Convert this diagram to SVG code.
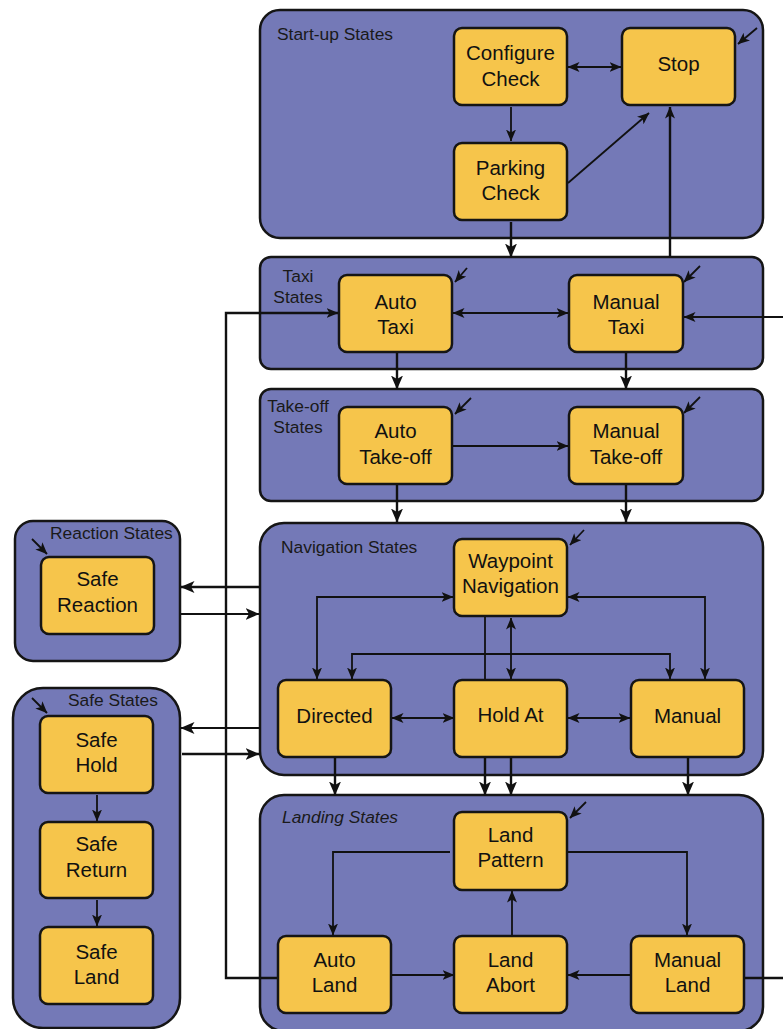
<svg xmlns="http://www.w3.org/2000/svg" width="783" height="1029" viewBox="0 0 783 1029">
  <style>
    .grp { fill: #7479b7; stroke: #151515; stroke-width: 2.5; }
    .st { fill: #f6c54b; stroke: #151515; stroke-width: 2.5; }
    .lbl { font-family: "Liberation Sans", Arial, sans-serif; font-size: 17.4px; fill: #1a1a1a; }
    .nt { font-family: "Liberation Sans", Arial, sans-serif; font-size: 20.5px; fill: #111; text-anchor: middle; }
    .c { fill: none; stroke: #111; stroke-width: 1.8; }
    .ct { fill: none; stroke: #111; stroke-width: 2.4; }
  </style>
  <defs>
    <marker id="ah" viewBox="0 0 12 10" refX="11.5" refY="5" markerWidth="12" markerHeight="10" markerUnits="userSpaceOnUse" orient="auto-start-reverse">
      <path d="M0,0 L12,5 L0,10 L3,5 z" fill="#111"/>
    </marker>
    <marker id="ahb" viewBox="0 0 14 12" refX="13.5" refY="6" markerWidth="14" markerHeight="12" markerUnits="userSpaceOnUse" orient="auto-start-reverse">
      <path d="M0,0 L14,6 L0,12 L3.5,6 z" fill="#111"/>
    </marker>
  </defs>

  <rect width="783" height="1029" fill="#ffffff"/>

  <!-- state groups (containers) -->
  <g id="startup-states">
    <rect class="grp" x="260" y="10" width="503" height="228" rx="20"/>
    <text class="lbl" x="277" y="40">Start-up States</text>
  </g>
  <g id="taxi-states">
    <rect class="grp" x="260" y="257" width="503" height="112" rx="11"/>
    <text class="lbl" x="298" y="282" text-anchor="middle">Taxi</text>
    <text class="lbl" x="298" y="303" text-anchor="middle">States</text>
  </g>
  <g id="takeoff-states">
    <rect class="grp" x="260" y="389" width="503" height="112" rx="11"/>
    <text class="lbl" x="298" y="412" text-anchor="middle">Take-off</text>
    <text class="lbl" x="298" y="433" text-anchor="middle">States</text>
  </g>
  <g id="reaction-states">
    <rect class="grp" x="15" y="521" width="165" height="140" rx="18"/>
    <text class="lbl" x="50" y="539">Reaction States</text>
  </g>
  <g id="navigation-states">
    <rect class="grp" x="260" y="523" width="503" height="252" rx="24"/>
    <text class="lbl" x="281" y="553">Navigation States</text>
  </g>
  <g id="safe-states">
    <rect class="grp" x="13" y="688" width="167" height="340" rx="30"/>
    <text class="lbl" x="68" y="706">Safe States</text>
  </g>
  <g id="landing-states">
    <rect class="grp" x="260" y="795" width="503" height="236" rx="24"/>
    <text class="lbl" x="282" y="823" font-style="italic">Landing States</text>
  </g>

  <!-- transitions -->
  <g id="connectors">
    <!-- start-up -->
    <path class="c" d="M568,67 H621" marker-start="url(#ah)" marker-end="url(#ah)"/>
    <path class="c" d="M511,107 V141" marker-end="url(#ah)"/>
    <path class="c" d="M568,183 L649,113" marker-end="url(#ah)"/>
    <path class="ct" d="M670,257 V107" marker-end="url(#ah)"/>
    <path class="c" d="M757,28 L738,44" marker-end="url(#ah)"/>
    <path class="ct" d="M511,222 V257" marker-end="url(#ahb)"/>

    <!-- taxi -->
    <path class="ct" d="M277,978 H226 V313 H338" marker-end="url(#ah)"/>
    <path class="c" d="M453,313 H568" marker-start="url(#ah)" marker-end="url(#ah)"/>
    <path class="c" d="M783,317 H684" marker-end="url(#ah)"/>
    <path class="c" d="M467,268 L455,282" marker-end="url(#ah)"/>
    <path class="c" d="M700,266 L684,282" marker-end="url(#ah)"/>
    <path class="ct" d="M397,353 V389" marker-end="url(#ahb)"/>
    <path class="ct" d="M626,353 V389" marker-end="url(#ahb)"/>

    <!-- take-off -->
    <path class="c" d="M453,446 H568" marker-end="url(#ah)"/>
    <path class="c" d="M471,398 L455,414" marker-end="url(#ah)"/>
    <path class="c" d="M700,397 L684,413" marker-end="url(#ah)"/>
    <path class="ct" d="M397,485 V522" marker-end="url(#ahb)"/>
    <path class="ct" d="M626,485 V522" marker-end="url(#ahb)"/>

    <!-- reaction / safe links -->
    <path class="ct" d="M260,587 H181" marker-end="url(#ahb)"/>
    <path class="c" d="M181,614 H259" marker-end="url(#ahb)"/>
    <path class="c" d="M260,728 H181" marker-end="url(#ahb)"/>
    <path class="ct" d="M182,754 H259" marker-end="url(#ahb)"/>
    <path class="c" d="M32,539 L47,554" marker-end="url(#ah)"/>
    <path class="c" d="M32,698 L47,713" marker-end="url(#ah)"/>

    <!-- navigation -->
    <path class="c" d="M584,530 L570,545" marker-end="url(#ah)"/>
    <path class="c" d="M453,597 H317 V679" marker-start="url(#ah)" marker-end="url(#ah)"/>
    <path class="c" d="M568,597 H705 V679" marker-start="url(#ah)" marker-end="url(#ah)"/>
    <path class="c" d="M352,679 V654 H670 V679" marker-start="url(#ah)" marker-end="url(#ah)"/>
    <path class="c" d="M485,617 V680"/>
    <path class="c" d="M511,618 V679" marker-start="url(#ah)" marker-end="url(#ah)"/>
    <path class="c" d="M392,718 H454" marker-start="url(#ah)" marker-end="url(#ah)"/>
    <path class="c" d="M568,718 H630" marker-start="url(#ah)" marker-end="url(#ah)"/>
    <path class="ct" d="M335,758 V795" marker-end="url(#ahb)"/>
    <path class="ct" d="M485,758 V795" marker-end="url(#ahb)"/>
    <path class="ct" d="M511,758 V795" marker-end="url(#ahb)"/>
    <path class="ct" d="M688,758 V795" marker-end="url(#ahb)"/>

    <!-- safe chain -->
    <path class="c" d="M97,795 V821" marker-end="url(#ah)"/>
    <path class="c" d="M97,900 V926" marker-end="url(#ah)"/>

    <!-- landing -->
    <path class="c" d="M586,802 L570,818" marker-end="url(#ah)"/>
    <path class="c" d="M450,852 H333 V935" marker-end="url(#ah)"/>
    <path class="c" d="M568,852 H687 V935" marker-end="url(#ah)"/>
    <path class="c" d="M512,936 V891" marker-end="url(#ah)"/>
    <path class="c" d="M392,975 H454" marker-end="url(#ah)"/>
    <path class="c" d="M631,975 H568" marker-end="url(#ah)"/>
    <path class="ct" d="M745,978 H783"/>
  </g>

  <!-- states -->
  <g id="configure-check">
    <rect class="st" x="454" y="28" width="113" height="77" rx="8"/>
    <text class="nt" x="510.5" y="60">Configure</text>
    <text class="nt" x="510.5" y="86">Check</text>
  </g>
  <g id="stop">
    <rect class="st" x="622" y="28" width="113" height="77" rx="8"/>
    <text class="nt" x="678.5" y="71">Stop</text>
  </g>
  <g id="parking-check">
    <rect class="st" x="454" y="143" width="113" height="77" rx="8"/>
    <text class="nt" x="510.5" y="175">Parking</text>
    <text class="nt" x="510.5" y="200">Check</text>
  </g>
  <g id="auto-taxi">
    <rect class="st" x="339" y="275" width="113" height="77" rx="8"/>
    <text class="nt" x="395.5" y="309">Auto</text>
    <text class="nt" x="395.5" y="334">Taxi</text>
  </g>
  <g id="manual-taxi">
    <rect class="st" x="569" y="275" width="114" height="77" rx="8"/>
    <text class="nt" x="626" y="309">Manual</text>
    <text class="nt" x="626" y="334">Taxi</text>
  </g>
  <g id="auto-takeoff">
    <rect class="st" x="339" y="407" width="113" height="77" rx="8"/>
    <text class="nt" x="395.5" y="438">Auto</text>
    <text class="nt" x="395.5" y="464">Take-off</text>
  </g>
  <g id="manual-takeoff">
    <rect class="st" x="569" y="407" width="114" height="77" rx="8"/>
    <text class="nt" x="626" y="438">Manual</text>
    <text class="nt" x="626" y="464">Take-off</text>
  </g>
  <g id="safe-reaction">
    <rect class="st" x="41" y="557" width="113" height="77" rx="8"/>
    <text class="nt" x="97.5" y="586">Safe</text>
    <text class="nt" x="97.5" y="612">Reaction</text>
  </g>
  <g id="waypoint-navigation">
    <rect class="st" x="454" y="539" width="113" height="77" rx="8"/>
    <text class="nt" x="510.5" y="568">Waypoint</text>
    <text class="nt" x="510.5" y="593">Navigation</text>
  </g>
  <g id="directed">
    <rect class="st" x="278" y="680" width="113" height="77" rx="8"/>
    <text class="nt" x="334.5" y="723">Directed</text>
  </g>
  <g id="hold-at">
    <rect class="st" x="454" y="680" width="113" height="77" rx="8"/>
    <text class="nt" x="510.5" y="722">Hold At</text>
  </g>
  <g id="manual">
    <rect class="st" x="631" y="680" width="113" height="77" rx="8"/>
    <text class="nt" x="687.5" y="722.5">Manual</text>
  </g>
  <g id="safe-hold">
    <rect class="st" x="40" y="716" width="113" height="77" rx="8"/>
    <text class="nt" x="96.5" y="747">Safe</text>
    <text class="nt" x="96.5" y="772">Hold</text>
  </g>
  <g id="safe-return">
    <rect class="st" x="40" y="822" width="113" height="76" rx="8"/>
    <text class="nt" x="96.5" y="851">Safe</text>
    <text class="nt" x="96.5" y="877">Return</text>
  </g>
  <g id="safe-land">
    <rect class="st" x="40" y="927" width="113" height="77" rx="8"/>
    <text class="nt" x="96.5" y="959">Safe</text>
    <text class="nt" x="96.5" y="984">Land</text>
  </g>
  <g id="land-pattern">
    <rect class="st" x="454" y="812" width="113" height="78" rx="8"/>
    <text class="nt" x="510.5" y="842">Land</text>
    <text class="nt" x="510.5" y="867">Pattern</text>
  </g>
  <g id="auto-land">
    <rect class="st" x="278" y="936" width="113" height="77" rx="8"/>
    <text class="nt" x="334.5" y="967">Auto</text>
    <text class="nt" x="334.5" y="992">Land</text>
  </g>
  <g id="land-abort">
    <rect class="st" x="454" y="936" width="113" height="77" rx="8"/>
    <text class="nt" x="510.5" y="967">Land</text>
    <text class="nt" x="510.5" y="992">Abort</text>
  </g>
  <g id="manual-land">
    <rect class="st" x="631" y="936" width="113" height="77" rx="8"/>
    <text class="nt" x="687.5" y="967">Manual</text>
    <text class="nt" x="687.5" y="992">Land</text>
  </g>
</svg>
